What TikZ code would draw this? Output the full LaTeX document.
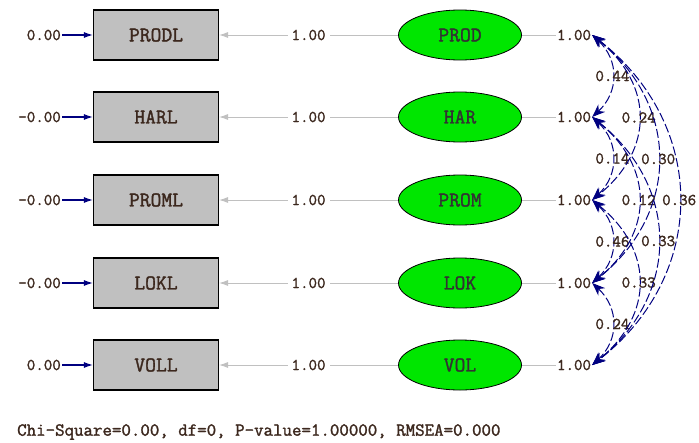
\documentclass[tikz,border=0pt]{standalone}
\usepackage{fontspec}
\newfontfamily\lisrelfont[FakeBold=1.6]{Latin Modern Mono}
\usepackage{tikz}
\usetikzlibrary{shapes.geometric,arrows.meta,positioning,calc}

\definecolor{boxgray}{RGB}{192,192,192}
\definecolor{latgreen}{RGB}{0,230,0}
\definecolor{navyblue}{RGB}{0,0,128}
\definecolor{numtext}{RGB}{60,40,30}

\begin{document}
\begin{tikzpicture}[
  x=1pt, y=-1pt,
  obs/.style={rectangle, draw, line width=1.1pt, fill=boxgray, minimum width=125pt, minimum height=50pt, font=\lisrelfont\fontsize{21}{23}\selectfont, text=numtext},
  lat/.style={ellipse, draw, line width=0.8pt, fill=latgreen, minimum width=123pt, minimum height=50pt, font=\lisrelfont\fontsize{21}{23}\selectfont, text=black!80},
  num/.style={font=\lisrelfont\fontsize{16.5}{18}\selectfont, text=numtext, inner sep=1pt},
  loadarrow/.style={boxgray, line width=0.9pt, -{Latex[length=9pt,width=6pt]}},
  errarrow/.style={navyblue, line width=1.2pt, -{Latex[length=9pt,width=6pt]}},
  varline/.style={boxgray, line width=0.9pt},
  corr/.style={navyblue, line width=1pt, dash pattern=on 9pt off 3pt, {Stealth[length=13pt,width=10pt]}-{Stealth[length=13pt,width=10pt]}}
]
\useasboundingbox (0,0) rectangle (699,442);

% observed and latent variables
\foreach \obsname/\latname/\err/\yy [count=\i] in {PRODL/PROD/0.00/35, HARL/HAR/-0.00/117, PROML/PROM/-0.00/200, LOKL/LOK/-0.00/283, VOLL/VOL/0.00/365} {
  \node[obs] (o\i) at (156,\yy) {\obsname};
  \node[lat] (l\i) at (460,\yy) {\latname};
  \node[num, anchor=east] (e\i) at (62,\yy) {\err};
  \node[num] (v\i) at (574,\yy) {1.00};
  \draw[errarrow] (e\i) -- (o\i);
  \draw[loadarrow] (l\i) -- node[num, fill=white, inner sep=4pt] {1.00} (o\i);
  \draw[varline] (l\i) -- (v\i);
}

% correlations between latent variables
\foreach \a/\b/\val/\dx/\dy in {1/2/0.44/27/25, 2/3/0.14/27/25, 3/4/0.46/27/25, 4/5/0.24/27/25,
                              1/3/0.24/62/50, 2/4/0.12/62/50, 3/5/0.33/62/50,
                              1/4/0.30/88/70, 2/5/0.33/88/70,
                              1/5/0.36/116/90} {
  \draw[corr] (v\a.east) .. controls +(\dx,\dy) and +(\dx,-\dy) .. node[num] {\val} (v\b.east);
}

% fit statistics
\node[num, anchor=west, font=\lisrelfont\fontsize{18.4}{20}\selectfont] (fit) at (16,432) {Chi-Square=0.00, df=0, P-value=1.00000, RMSEA=0.000};

\end{tikzpicture}
\end{document}
